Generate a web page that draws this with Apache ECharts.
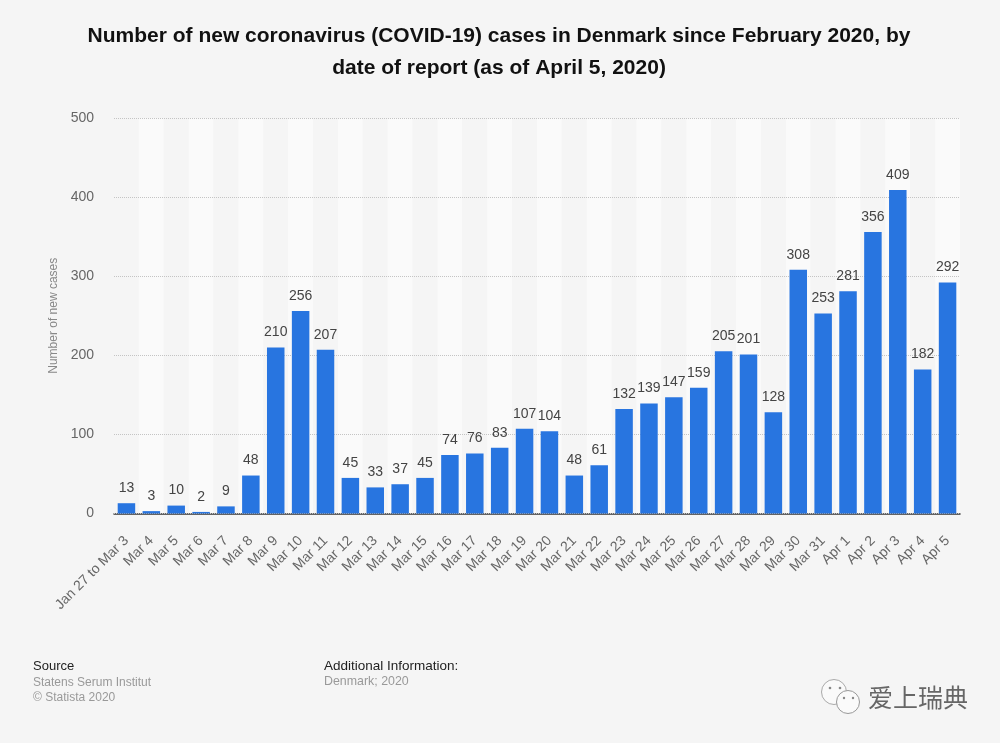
<!DOCTYPE html>
<html>
<head>
<meta charset="utf-8">
<style>
  html, body { margin: 0; padding: 0; background: #f5f5f5; }
  #chart { width: 1000px; height: 743px; }
</style>
<script src="https://cdn.jsdelivr.net/npm/echarts@6/dist/echarts.min.js"></script>
</head>
<body>
<div id="chart"></div>
<script>
const categories = ['Jan 27 to Mar 3', 'Mar 4', 'Mar 5', 'Mar 6', 'Mar 7', 'Mar 8', 'Mar 9', 'Mar 10', 'Mar 11', 'Mar 12',
  'Mar 13', 'Mar 14', 'Mar 15', 'Mar 16', 'Mar 17', 'Mar 18', 'Mar 19', 'Mar 20', 'Mar 21', 'Mar 22', 'Mar 23', 'Mar 24',
  'Mar 25', 'Mar 26', 'Mar 27', 'Mar 28', 'Mar 29', 'Mar 30', 'Mar 31', 'Apr 1', 'Apr 2', 'Apr 3', 'Apr 4', 'Apr 5'];
const newCases = [13, 3, 10, 2, 9, 48, 210, 256, 207, 45, 33, 37, 45, 74, 76, 83, 107, 104, 48, 61, 132, 139, 147, 159,
  205, 201, 128, 308, 253, 281, 356, 409, 182, 292];
const yTicks = { min: 0, max: 500, interval: 100 };

const font = 'Liberation Sans';
const chart = echarts.init(document.getElementById('chart'), null, { renderer: 'canvas' });

chart.setOption({
  backgroundColor: '#f5f5f5',
  animation: false,
  textStyle: { fontFamily: font },
  title: {
    text: 'Number of new coronavirus (COVID-19) cases in Denmark since February 2020, by\ndate of report (as of April 5, 2020)',
    left: 494,
    top: 15,
    textAlign: 'center',
    textStyle: { fontFamily: font, fontSize: 21, fontWeight: 'bold', color: '#111', lineHeight: 32 }
  },
  grid: { left: 114, right: 40, top: 118, height: 395.5 },
  xAxis: {
    type: 'category',
    data: categories,
    axisTick: { show: false },
    axisLine: { show: true, lineStyle: { color: '#333', width: 1.5 } },
    axisLabel: { interval: 0, rotate: 45, color: '#666', fontSize: 14, margin: 25 },
    splitArea: { show: true, interval: 0, areaStyle: { color: ['#f5f5f5', '#fafafa'] } }
  },
  yAxis: {
    type: 'value',
    z: 1,
    min: yTicks.min,
    max: yTicks.max,
    interval: yTicks.interval,
    name: 'Number of new cases',
    nameLocation: 'middle',
    nameGap: 54,
    nameTextStyle: { color: '#888', fontSize: 12 },
    axisLine: { show: false },
    axisTick: { show: false },
    axisLabel: { color: '#666', fontSize: 14, margin: 20, padding: [2, 0, 0, 0] },
    splitLine: { lineStyle: { color: '#c4c4c4', type: [1, 1], width: 1 } }
  },
  series: [{
    name: 'Number of new cases',
    type: 'bar',
    data: newCases,
    barWidth: 17.5,
    itemStyle: { color: '#2875e0' },
    label: { show: true, position: 'top', distance: 8, color: '#444', fontSize: 14 }
  }],
  graphic: [
    { type: 'text', left: 33, top: 660, style: { text: 'Source', font: '13px ' + font, fill: '#222' } },
    { type: 'text', left: 33, top: 677, style: { text: 'Statens Serum Institut', font: '12px ' + font, fill: '#999' } },
    { type: 'text', left: 33, top: 692, style: { text: '© Statista 2020', font: '12px ' + font, fill: '#999' } },
    { type: 'text', left: 324, top: 659, style: { text: 'Additional Information:', font: '13.5px ' + font, fill: '#222' } },
    { type: 'text', left: 324, top: 676, style: { text: 'Denmark; 2020', font: '12.4px ' + font, fill: '#999' } },
    // wechat mark, bottom right
    { type: 'circle', shape: { cx: 834, cy: 692, r: 12.5 }, style: { fill: '#fafafa', stroke: '#aaa', lineWidth: 1 } },
    { type: 'circle', shape: { cx: 848, cy: 702, r: 11.5 }, style: { fill: '#fafafa', stroke: '#999', lineWidth: 1 } },
    { type: 'circle', shape: { cx: 830, cy: 688, r: 1.3 }, style: { fill: '#888' } },
    { type: 'circle', shape: { cx: 840, cy: 688, r: 1.3 }, style: { fill: '#888' } },
    { type: 'circle', shape: { cx: 844, cy: 698, r: 1.2 }, style: { fill: '#888' } },
    { type: 'circle', shape: { cx: 853, cy: 698, r: 1.2 }, style: { fill: '#888' } },
    { type: 'text', left: 868, top: 685, style: { text: '爱上瑞典', font: '25px "Noto Sans CJK SC"', fill: '#666' } }
  ]
});
</script>
</body>
</html>
